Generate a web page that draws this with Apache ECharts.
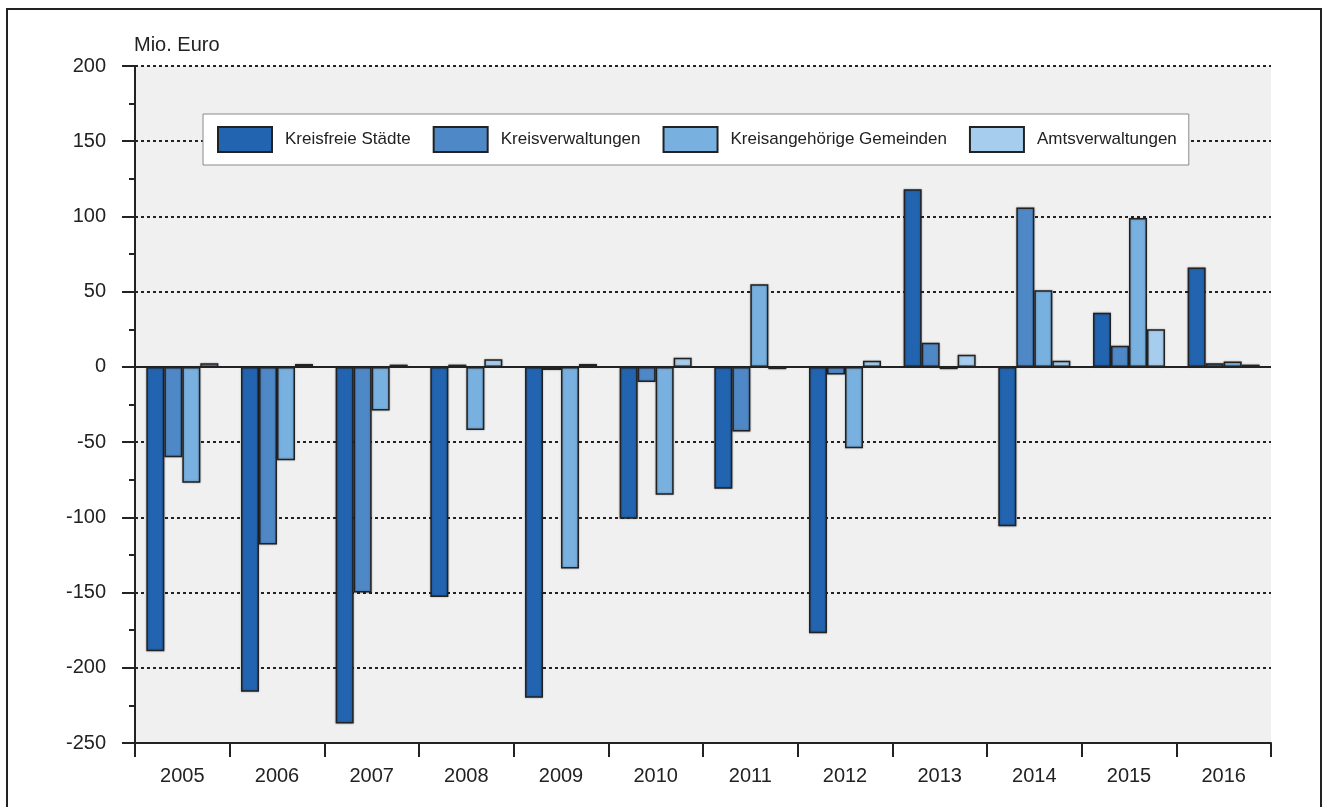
<!DOCTYPE html>
<html>
<head>
<meta charset="utf-8">
<script src="https://cdn.jsdelivr.net/npm/echarts@6/dist/echarts.min.js"></script>
<style>
html,body{margin:0;padding:0;background:#fff;}
#c{width:1324px;height:807px;}
</style>
</head>
<body>
<div id="c"></div>
<script>
var years = ['2005','2006','2007','2008','2009','2010','2011','2012','2013','2014','2015','2016'];
var seriesNames = ['Kreisfreie Städte','Kreisverwaltungen','Kreisangehörige Gemeinden','Amtsverwaltungen'];
var kreisfreieStaedte = [-189, -216, -237, -153, -220, -101, -81, -177, 118, -106, 36, 66];
var kreisverwaltungen = [-60, -118, -150, 1.5, -2, -10, -43, -5, 16, 106, 14, 2.5];
var kreisangehoerigeGemeinden = [-77, -62, -29, -42, -134, -85, 55, -54, -1.5, 51, 99, 3.5];
var amtsverwaltungen = [2.5, 2, 1.5, 5, 2, 6, -1.5, 4, 8, 4, 25, 1.5];
var yTicks = {min: -250, max: 200, interval: 50};
var unitLabel = 'Mio. Euro';

var colors = ['#2264b0', '#4f88c7', '#78b0df', '#a6cdee'];
var font = "'Liberation Sans',Arial,sans-serif";
var dataSets = [kreisfreieStaedte, kreisverwaltungen, kreisangehoerigeGemeinden, amtsverwaltungen];

var series = dataSets.map(function (d, i) {
  var s = {
    name: seriesNames[i],
    type: 'bar',
    data: d,
    barWidth: 18,
    barGap: '0%',
    itemStyle: {color: colors[i], borderColor: '#222', borderWidth: 1.5, shadowColor: 'rgba(0,0,0,0.3)', shadowBlur: 2},
    emphasis: {disabled: true}
  };
  if (i === 0) {
    s.markLine = {
      silent: true,
      symbol: 'none',
      label: {show: false},
      lineStyle: {color: '#222', width: 2, type: 'solid'},
      data: [{yAxis: 0}],
      animation: false
    };
  }
  return s;
});

var chart = echarts.init(document.getElementById('c'));
chart.setOption({
  animation: false,
  backgroundColor: '#fff',
  grid: {left: 135, right: 53, top: 66, bottom: 64, show: true, backgroundColor: '#f0f0f0', borderWidth: 0, containLabel: false},
  legend: {
    left: 203, top: 114,
    padding: [12, 12, 12, 14],
    itemGap: 22,
    itemWidth: 54, itemHeight: 25,
    icon: 'rect',
    backgroundColor: '#fff',
    borderColor: '#8a8a8a', borderWidth: 1,
    textStyle: {fontFamily: font, fontSize: 17, color: '#222', padding: [0, 0, 0, 8]},
    data: seriesNames,
    selectedMode: false
  },
  xAxis: {
    type: 'category',
    data: years,
    axisLine: {onZero: false, lineStyle: {color: '#222', width: 2}},
    axisTick: {show: true, length: 14, lineStyle: {color: '#222', width: 2}},
    axisLabel: {fontFamily: font, fontSize: 20, color: '#222', margin: 23},
    splitLine: {show: false}
  },
  yAxis: {
    type: 'value',
    min: yTicks.min, max: yTicks.max, interval: yTicks.interval,
    axisLine: {show: true, lineStyle: {color: '#222', width: 2}},
    axisTick: {show: true, length: 13, lineStyle: {color: '#222', width: 2}},
    minorTick: {show: true, splitNumber: 2, length: 6, lineStyle: {color: '#222', width: 2}},
    axisLabel: {fontFamily: font, fontSize: 20, color: '#222', margin: 29},
    splitLine: {show: true, lineStyle: {color: '#222', width: 2, type: [3, 3]}}
  },
  graphic: [
    {type: 'rect', shape: {x: 7, y: 9, width: 1314, height: 805}, style: {fill: 'none', stroke: '#222', lineWidth: 2}, silent: true},
    {type: 'text', x: 134, y: 35, style: {text: unitLabel, font: '20px ' + font, fill: '#222'}, silent: true}
  ],
  series: series
});
</script>
</body>
</html>
